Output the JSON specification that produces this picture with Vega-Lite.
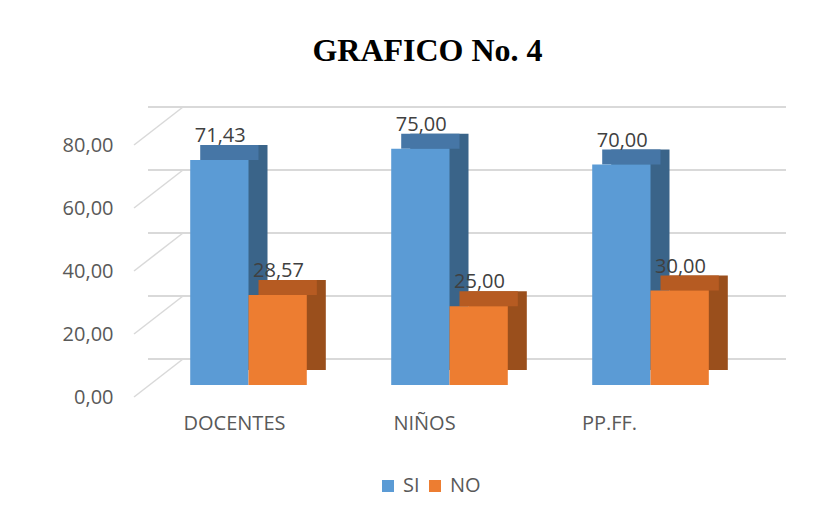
{
  "$schema": "https://vega.github.io/schema/vega-lite/v6.json",
  "autosize": {"type": "none"},
  "width": 603,
  "height": 252,
  "padding": {"left": 148, "top": 133, "right": 81, "bottom": 132},
  "background": "white",
  "title": {
    "text": "GRAFICO No. 4",
    "font": "Liberation Serif",
    "fontSize": 32,
    "fontWeight": "bold",
    "color": "#000000",
    "anchor": "middle",
    "baseline": "alphabetic",
    "dx": -22,
    "offset": 13
  },
  "datasets": {
    "bars": [
      {"grupo": "DOCENTES", "serie": "SI", "valor": 71.43},
      {"grupo": "DOCENTES", "serie": "NO", "valor": 28.57},
      {"grupo": "NIÑOS", "serie": "SI", "valor": 75.0},
      {"grupo": "NIÑOS", "serie": "NO", "valor": 25.0},
      {"grupo": "PP.FF.", "serie": "SI", "valor": 70.0},
      {"grupo": "PP.FF.", "serie": "NO", "valor": 30.0}
    ],
    "ticks": [{"v": 0}, {"v": 20}, {"v": 40}, {"v": 60}, {"v": 80}]
  },
  "resolve": {"scale": {"xOffset": "independent"}},
  "layer": [
    {
      "data": {"name": "ticks"},
      "mark": {"type": "rule", "color": "#d9d9d9", "strokeWidth": 2, "xOffset": 35, "x2Offset": 35, "yOffset": -26},
      "encoding": {
        "y": {
          "field": "v", "type": "quantitative", "scale": {"domain": [0, 80]}, "title": null,
          "axis": {
            "values": [0, 20, 40, 60, 80], "format": ".2f", "grid": false, "domain": false, "ticks": false,
            "labelPadding": 35, "labelOffset": 12, "labelFont": "Open Sans", "labelFontSize": 20, "labelColor": "#595959"
          }
        }
      }
    },
    {
      "data": {"name": "ticks"},
      "mark": {"type": "rule", "color": "#d9d9d9", "strokeWidth": 1.5, "xOffset": -14, "x2Offset": 35, "yOffset": 12, "y2Offset": -26},
      "encoding": {
        "x": {"value": 0},
        "x2": {"value": 0},
        "y": {"field": "v", "type": "quantitative"},
        "y2": {"field": "v"}
      }
    },
    {
      "data": {"name": "bars"},
      "mark": {"type": "bar", "yOffset": -15, "y2Offset": -15},
      "encoding": {
        "x": {
          "field": "grupo", "type": "nominal", "sort": ["DOCENTES", "NIÑOS", "PP.FF."], "title": null,
          "scale": {"paddingInner": 0.42, "paddingOuter": 0.21},
          "axis": {
            "domain": false, "ticks": false, "labelAngle": 0, "labelPadding": 28,
            "labelFont": "Open Sans", "labelFontSize": 20, "labelColor": "#595959",
            "labelOffset": {"expr": "datum.value === 'DOCENTES' ? -14 : datum.value === 'NIÑOS' ? -25 : -41"}
          }
        },
        "xOffset": {"field": "serie", "sort": ["SI", "NO"], "scale": {"range": [19, 135.6], "paddingInner": 0, "paddingOuter": 0}},
        "y": {"field": "valor", "type": "quantitative"},
        "color": {"condition": {"test": "datum.serie === 'SI'", "value": "#3a6489"}, "value": "#9a4f1c"}
      }
    },
    {
      "data": {"name": "bars"},
      "mark": {"type": "bar", "yOffset": -15},
      "encoding": {
        "x": {"field": "grupo", "type": "nominal", "sort": ["DOCENTES", "NIÑOS", "PP.FF."]},
        "xOffset": {"field": "serie", "sort": ["SI", "NO"], "scale": {"range": [10, 126.6], "paddingInner": 0, "paddingOuter": 0}},
        "y": {"field": "valor", "type": "quantitative"},
        "y2": {"field": "valor"},
        "color": {"condition": {"test": "datum.serie === 'SI'", "value": "#4676a6"}, "value": "#b65b22"}
      }
    },
    {
      "data": {"name": "bars"},
      "mark": {"type": "bar"},
      "encoding": {
        "x": {"field": "grupo", "type": "nominal", "sort": ["DOCENTES", "NIÑOS", "PP.FF."]},
        "xOffset": {"field": "serie", "sort": ["SI", "NO"], "scale": {"paddingInner": 0, "paddingOuter": 0}},
        "y": {"field": "valor", "type": "quantitative"},
        "color": {
          "field": "serie", "type": "nominal",
          "scale": {"domain": ["SI", "NO"], "range": ["#5b9bd5", "#ed7d31"]},
          "legend": {
            "title": null, "orient": "none", "direction": "horizontal", "legendX": 230, "legendY": 343,
            "symbolType": "square", "symbolSize": 144, "symbolStrokeWidth": 0,
            "labelFont": "Open Sans", "labelFontSize": 20, "labelColor": "#595959", "columnPadding": 5, "labelOffset": 5
          }
        }
      }
    },
    {
      "data": {"name": "bars"},
      "mark": {"type": "text", "font": "Open Sans", "fontSize": 20, "color": "#404040", "baseline": "alphabetic", "dy": -18},
      "encoding": {
        "x": {"field": "grupo", "type": "nominal", "sort": ["DOCENTES", "NIÑOS", "PP.FF."]},
        "xOffset": {"field": "serie", "sort": ["SI", "NO"], "scale": {"range": [30, 88.3], "paddingOuter": 0}},
        "y": {"field": "valor", "type": "quantitative"},
        "text": {"field": "valor", "type": "quantitative", "format": ".2f"}
      }
    }
  ],
  "config": {
    "view": {"stroke": null},
    "locale": {"number": {"decimal": ",", "thousands": ".", "grouping": [3], "currency": ["", ""]}}
  }
}
